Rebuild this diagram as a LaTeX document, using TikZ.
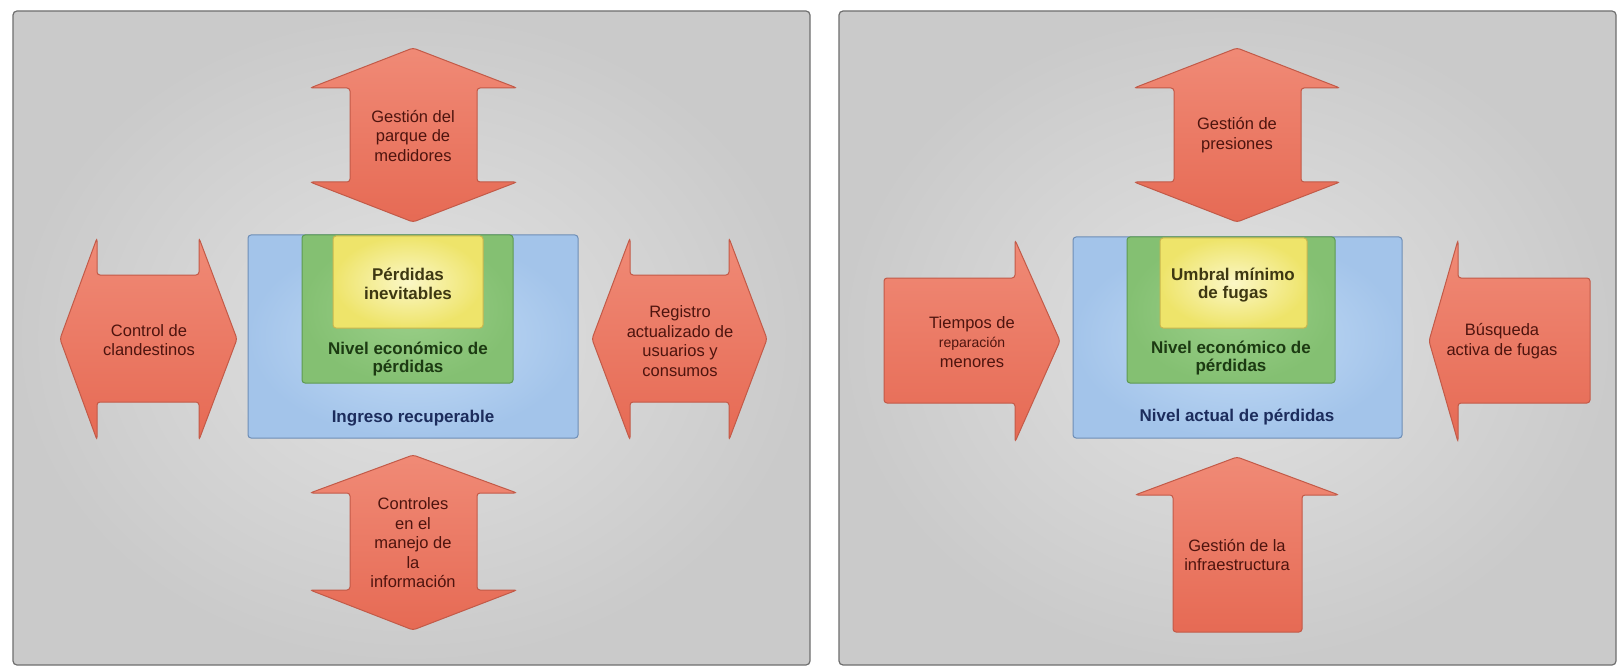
\documentclass[tikz,border=0pt]{standalone}
\usepackage{fontspec}
\setmainfont{Liberation Sans}
\definecolor{panelin}{HTML}{E2E2E2}
\definecolor{panelout}{HTML}{CACACA}
\definecolor{panelline}{HTML}{6E6E6E}
\definecolor{arrtop}{HTML}{F08A76}
\definecolor{arrbot}{HTML}{E66A54}
\definecolor{arrline}{HTML}{C25A48}
\definecolor{arrtext}{HTML}{4E140E}
\definecolor{bluein}{HTML}{C4DCF6}
\definecolor{blueout}{HTML}{A3C4EA}
\definecolor{blueline}{HTML}{6E8EB6}
\definecolor{greenin}{HTML}{9CD08A}
\definecolor{greenout}{HTML}{84C072}
\definecolor{greenline}{HTML}{5E9A52}
\definecolor{yellowin}{HTML}{FBF7C6}
\definecolor{yellowout}{HTML}{EEE46A}
\definecolor{yellowline}{HTML}{C9B64E}
\definecolor{yellowtext}{HTML}{3E3812}
\definecolor{greentext}{HTML}{1C3A12}
\definecolor{bluetext}{HTML}{1C2C5C}
\tikzset{
  panel/.style={draw=panelline, line width=1.2pt, inner color=panelin, outer color=panelout, rounded corners=4pt},
  arrowshape/.style={draw=arrline, line width=1pt, top color=arrtop, bottom color=arrbot, rounded corners=3pt},
  arrtxt/.style={text=arrtext, align=center, inner sep=0pt, font=\fontsize{16.5}{19.5}\selectfont},
  boxblue/.style={draw=blueline, line width=1pt, inner color=bluein, outer color=blueout, rounded corners=3pt},
  boxgreen/.style={draw=greenline, line width=1pt, inner color=greenin, outer color=greenout, rounded corners=3pt},
  boxyellow/.style={draw=yellowline, line width=1pt, inner color=yellowin, outer color=yellowout, rounded corners=3pt},
  boldtxt/.style={align=center, inner sep=0pt, font=\fontsize{17}{18.5}\selectfont\bfseries},
}
\begin{document}
\begin{tikzpicture}[x=1pt,y=-1pt]
\useasboundingbox (0,0) rectangle (1621,668);
\fill[white] (0,0) rectangle (1621,668);
% ---------------- Left panel ----------------
\path[panel] (13,11) rectangle (810,665);
% top double arrow
\path[arrowshape] (413,48) -- (517,88) -- (477,88) -- (477,182) -- (517,182) -- (413,222) -- (310,182) -- (350,182) -- (350,88) -- (310,88) -- cycle;
% bottom double arrow
\path[arrowshape] (413,455) -- (517,493) -- (477,493) -- (477,590) -- (517,590) -- (413,630) -- (310,590) -- (350,590) -- (350,493) -- (310,493) -- cycle;
% left double arrow
\path[arrowshape] (60,339) -- (97,238) -- (97,275) -- (199,275) -- (199,238) -- (237,339) -- (199,440) -- (199,402) -- (97,402) -- (97,440) -- cycle;
% right double arrow
\path[arrowshape] (592,339) -- (630,238) -- (630,275) -- (729,275) -- (729,238) -- (767,339) -- (729,440) -- (729,402) -- (630,402) -- (630,440) -- cycle;
% central boxes
\path[boxblue] (248,235) rectangle (578,438);
\path[boxgreen] (302,235) rectangle (513,383);
\path[boxyellow] (333,236) rectangle (483,328);
% texts
\node[arrtxt] (lt) at (413,136) {Gestión del\\parque de\\medidores};
\node[arrtxt] (lb) at (413,543) {Controles\\en el\\manejo de\\la\\información};
\node[arrtxt] (ll) at (149,340) {Control de\\clandestinos};
\node[arrtxt] (lr) at (680,341) {Registro\\actualizado de\\usuarios y\\consumos};
\node[boldtxt, text=yellowtext] (ly) at (408,284) {Pérdidas\\inevitables};
\node[boldtxt, text=greentext] (lg) at (408,359) {Nivel económico de\\pérdidas};
\node[boldtxt, text=bluetext] (lbl) at (413,418) {Ingreso recuperable};
% ---------------- Right panel ----------------
\path[panel] (839,11) rectangle (1616,665);
% top double arrow
\path[arrowshape] (1237,48) -- (1340,88) -- (1301,88) -- (1301,182) -- (1340,182) -- (1237,222) -- (1134,182) -- (1174,182) -- (1174,88) -- (1134,88) -- cycle;
% bottom up arrow
\path[arrowshape] (1237,457) -- (1339,495) -- (1302,495) -- (1302,632) -- (1173,632) -- (1173,495) -- (1135,495) -- cycle;
% left arrow pointing right
\path[arrowshape] (884,278) -- (1015,278) -- (1015,240) -- (1060,341) -- (1015,442) -- (1015,403) -- (884,403) -- cycle;
% right arrow pointing left
\path[arrowshape] (1590,278) -- (1458,278) -- (1458,240) -- (1429,341) -- (1458,442) -- (1458,403) -- (1590,403) -- cycle;
% central boxes
\path[boxblue] (1073,237) rectangle (1402,438);
\path[boxgreen] (1127,237) rectangle (1335,383);
\path[boxyellow] (1160,238) rectangle (1307,328);
% texts
\node[arrtxt] (rt) at (1237,135) {Gestión de\\presiones};
\node[arrtxt] (rb) at (1237,555) {Gestión de la\\infraestructura};
\node[arrtxt] (rl) at (972,342) {Tiempos de\\{\fontsize{14}{19.5}\selectfont reparación}\\menores};
\node[arrtxt] (rr) at (1502,341) {Búsqueda\\activa de fugas};
\node[boldtxt, text=yellowtext] (ry) at (1233,285) {Umbral mínimo\\de fugas};
\node[boldtxt, text=greentext] (rg) at (1231,358) {Nivel económico de\\pérdidas};
\node[boldtxt, text=bluetext] (rbl) at (1237,417) {Nivel actual de pérdidas};
\end{tikzpicture}
\end{document}
